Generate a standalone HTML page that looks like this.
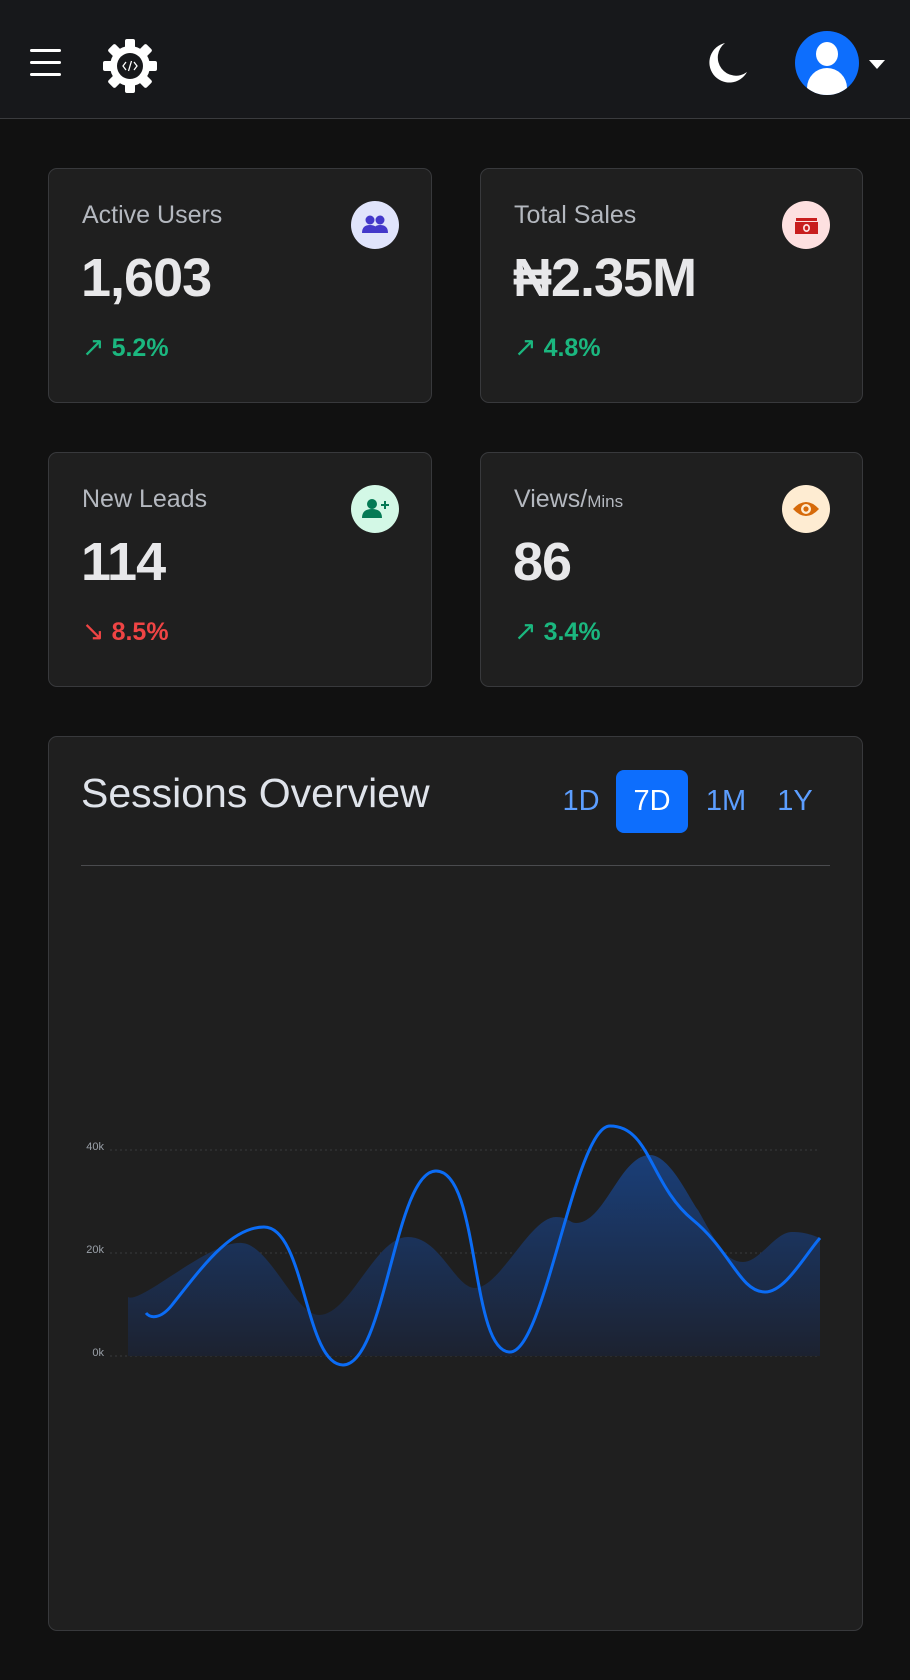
<!DOCTYPE html>
<html><head><meta charset="utf-8"><style>
*{box-sizing:border-box;margin:0;padding:0}
body{width:910px;height:1680px;background:#111111;font-family:"Liberation Sans",sans-serif;position:relative;overflow:hidden;color:#e6e6e6}
.hdr{position:absolute;left:0;top:0;width:910px;height:119px;background:#17181b;border-bottom:1px solid #3a3b3e}
.card{position:absolute;background:#1f1f1f;border:1px solid #38393c;border-radius:9px}
.lbl{position:absolute;left:33px;top:32px;font-size:25px;color:#b4b8bf}
.num{position:absolute;left:32px;top:78px;font-size:54px;font-weight:bold;color:#e8e8ea;letter-spacing:-1px}
.pct{position:absolute;left:33px;top:163px;font-size:25px;font-weight:bold}
.pct span{font-weight:normal;font-size:27px}
.ic{position:absolute;right:32px;top:32px;width:48px;height:48px;border-radius:50%}
.btn{position:absolute;top:770px;height:63px;width:72px;font-size:29px;color:#5c9eff;text-align:center;line-height:63px;border-radius:8px}
</style></head><body>
<div class="hdr">
<div style="position:absolute;left:30px;top:49px;width:31px;height:3px;background:#fff;border-radius:2px"></div>
<div style="position:absolute;left:30px;top:61px;width:31px;height:3px;background:#fff;border-radius:2px"></div>
<div style="position:absolute;left:30px;top:73px;width:31px;height:3px;background:#fff;border-radius:2px"></div>
<svg style="position:absolute;left:102px;top:38px" width="56" height="56" viewBox="0 0 56 56">
<g fill="#fff" transform="translate(28 28)">
<circle r="20"/>
<g id="t"><rect x="-5" y="-27" width="10" height="10" rx="2"/></g>
<use href="#t" transform="rotate(45)"/><use href="#t" transform="rotate(90)"/><use href="#t" transform="rotate(135)"/><use href="#t" transform="rotate(180)"/><use href="#t" transform="rotate(225)"/><use href="#t" transform="rotate(270)"/><use href="#t" transform="rotate(315)"/>
<circle r="13" fill="#17181b"/>
<path d="M-4 -4 L-7 0 L-4 4 M4 -4 L7 0 L4 4 M1.5 -5 L-1.5 5" stroke="#fff" stroke-width="1.3" fill="none"/>
</g></svg>
<svg style="position:absolute;left:705px;top:40px" width="46" height="46" viewBox="0 0 46 46"><path d="M20 3 A20 20 0 1 0 42 32 A17 17 0 0 1 20 3Z" fill="#fff"/></svg>
<div style="position:absolute;left:795px;top:31px;width:64px;height:64px;border-radius:50%;background:#0d6efd;overflow:hidden">
<div style="position:absolute;left:21px;top:11px;width:22px;height:24px;border-radius:50%;background:#fff"></div>
<div style="position:absolute;left:12px;top:37px;width:40px;height:30px;border-radius:20px 20px 6px 6px;background:#fff"></div></div>
<div style="position:absolute;left:869px;top:60px;border-left:8px solid transparent;border-right:8px solid transparent;border-top:9px solid #fff"></div>
</div>

<div class="card" style="left:48px;top:168px;width:384px;height:235px">
<div class="lbl">Active Users</div><div class="num">1,603</div>
<div class="pct" style="color:#1bb77f"><span>↗</span> 5.2%</div>
<div class="ic" style="background:#e0e4fb"><svg width="48" height="48"><g fill="#4338ca"><circle cx="19" cy="19" r="4.5"/><circle cx="29" cy="19" r="4.5"/><path d="M11 32 q0-8 8-8 q8 0 8 8z M22 32 q0-8 7-8 q8 0 8 8z"/></g></svg></div>
</div>
<div class="card" style="left:480px;top:168px;width:383px;height:235px">
<div class="lbl">Total Sales</div><div class="num">₦2.35M</div>
<div class="pct" style="color:#1bb77f"><span>↗</span> 4.8%</div>
<div class="ic" style="background:#fde0e0"><svg width="48" height="48"><g fill="#c81e1e"><rect x="14" y="17" width="21" height="3"/><rect x="13" y="21" width="23" height="12"/><ellipse cx="24.5" cy="27" rx="3.5" ry="4" fill="#fde0e0"/><ellipse cx="24.5" cy="27" rx="1.8" ry="2.3"/></g></svg></div>
</div>
<div class="card" style="left:48px;top:452px;width:384px;height:235px">
<div class="lbl">New Leads</div><div class="num">114</div>
<div class="pct" style="color:#ef4444"><span>↘</span> 8.5%</div>
<div class="ic" style="background:#d3f8e6"><svg width="48" height="48"><g fill="#057a55"><circle cx="21" cy="19" r="5"/><path d="M11 33 q0-9 10-9 q10 0 10 9z"/><rect x="30" y="19" width="8" height="2"/><rect x="33" y="16" width="2" height="8"/></g></svg></div>
</div>
<div class="card" style="left:480px;top:452px;width:383px;height:235px">
<div class="lbl">Views/<span style="font-size:17px">Mins</span></div><div class="num">86</div>
<div class="pct" style="color:#1bb77f"><span>↗</span> 3.4%</div>
<div class="ic" style="background:#feecd2"><svg width="48" height="48"><path d="M11 24 q13-14 26 0 q-13 14-26 0z" fill="#d66a0a"/><circle cx="24" cy="24" r="5" fill="#feecd2"/><circle cx="24" cy="24" r="2.6" fill="#d66a0a"/></svg></div>
</div>

<div class="card" style="left:48px;top:736px;width:815px;height:895px"></div>
<div style="position:absolute;left:81px;top:770px;font-size:41px;color:#dfe3ea">Sessions Overview</div>
<div class="btn" style="left:545px">1D</div>
<div class="btn" style="left:616px;background:#0d6efd;color:#fff">7D</div>
<div class="btn" style="left:690px">1M</div>
<div class="btn" style="left:759px">1Y</div>
<div style="position:absolute;left:81px;top:865px;width:749px;height:1px;background:#4a4b4e"></div>

<svg style="position:absolute;left:0;top:0" width="910" height="1680">
<defs><linearGradient id="g" x1="0" y1="1150" x2="0" y2="1356" gradientUnits="userSpaceOnUse"><stop offset="0" stop-color="#1a3f7a"/><stop offset="1" stop-color="#1c2230"/></linearGradient></defs>
<g stroke="#3a3b3e" stroke-dasharray="2 3" stroke-width="1"><line x1="110" y1="1150" x2="818" y2="1150"/><line x1="110" y1="1253" x2="818" y2="1253"/><line x1="110" y1="1356" x2="818" y2="1356"/></g>
<g font-size="11" fill="#9aa0a8" text-anchor="end"><text x="104" y="1150">40k</text><text x="104" y="1253">20k</text><text x="104" y="1356">0k</text></g>
<path fill="url(#g)" d="M128 1297 C140 1305 210 1240 242 1243 C270 1245 295 1315 319 1315 C350 1315 375 1237 408 1237 C440 1237 455 1288 475 1288 C500 1288 530 1217 556 1217 C568 1217 570 1223 576 1223 C605 1223 620 1155 650 1155 C670 1155 690 1200 698 1210 C715 1240 725 1262 743 1262 C760 1262 775 1232 792 1232 C805 1232 812 1235 820 1238 L820 1356 L128 1356Z"/>
<path fill="none" stroke="#0b6cf5" stroke-width="3" d="M146 1313 C150 1318 160 1320 172 1305 C200 1270 230 1227 264 1227 C305 1227 305 1365 343 1365 C385 1365 395 1171 436 1171 C480 1171 470 1352 510 1352 C545 1352 575 1126 610 1126 C650 1126 650 1185 693 1220 C730 1250 740 1292 765 1292 C785 1292 805 1255 820 1238"/>
</svg>
</body></html>
